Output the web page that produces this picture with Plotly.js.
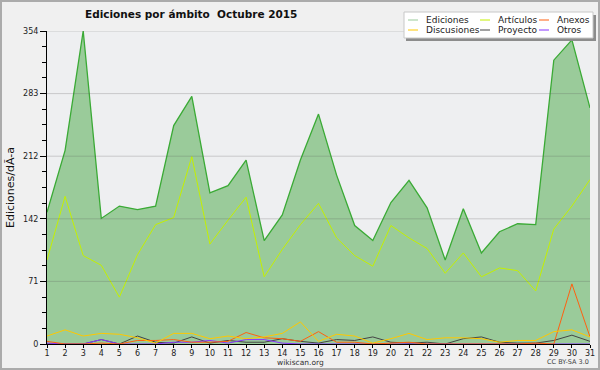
<!DOCTYPE html>
<html>
<head>
<meta charset="utf-8">
<script src="https://cdn.plot.ly/plotly-3.0.1.min.js"></script>
<style>
  html, body { margin: 0; padding: 0; background: #f0f0f0; }
  #wrap { position: relative; width: 600px; height: 370px; }
  #chart { width: 600px; height: 370px; }
  #frame { position: absolute; left: 0; top: 0; width: 600px; height: 370px; box-sizing: border-box; border: 2px solid #ababab; pointer-events: none; }
</style>
</head>
<body>
<div id="wrap"><div id="chart"></div><div id="frame"></div></div>
<script>
const days = [1,2,3,4,5,6,7,8,9,10,11,12,13,14,15,16,17,18,19,20,21,22,23,24,25,26,27,28,29,30,31];
const ediciones   = [149,219,354,142,156,152,156,247,280,171,179,208,117,146,208,260,191,134,117,160,185,154,95,153,103,127,136,135,321,344,267];
const articulos   = [95,167,100,89,53,101,135,143,212,113,140,166,76,107,135,159,120,100,88,134,120,108,80,103,76,86,83,60,130,156,186];
const discusiones = [9,16,9,12,11,7,1,12,12,6,9,6,8,12,25,3,11,9,1,6,12,5,7,7,6,2,4,4,14,16,8];
const anexos      = [3,0,0,1,0,4,4,5,2,2,3,13,7,6,3,14,2,2,0,1,2,0,0,0,0,0,0,1,0,68,8];
const proyecto    = [0,0,0,5,0,9,2,1,8,1,4,2,2,6,3,1,5,4,8,2,1,2,0,6,8,2,1,1,4,10,3];
const otros       = [1,0,0,5,0,0,0,2,2,4,1,5,5,1,0,0,0,0,0,0,0,0,0,0,0,0,0,0,0,0,0];

const seriesNames = ["Ediciones","Artículos","Anexos","Discusiones","Proyecto","Otros"];
const tickLabelsY = ["0","71","142","212","283","354"];
const titleText = "Ediciones por ámbito&nbsp;&nbsp;Octubre 2015";
const yTitle = "Ediciones/dÃ-a";

const colors = {
  Ediciones: "#3aaa35", EdicionesFill: "#9acb9a",
  "Artículos": "#c4f000", Anexos: "#ff6010", Discusiones: "#ffc800",
  Proyecto: "#444444", Otros: "#8833ff"
};
const legendColors = ["#9acb9a", "#c4f000", "#ff6010", "#ffc800", "#444444", "#8833ff"];

const traces = [
  {x: days, y: ediciones, name: "Ediciones", type: "scatter", mode: "lines", fill: "tozeroy",
   fillcolor: colors.EdicionesFill, line: {color: colors.Ediciones, width: 1.3}},
  {x: days, y: articulos, name: "Artículos", type: "scatter", mode: "lines", line: {color: colors["Artículos"], width: 1}},
  {x: days, y: proyecto, name: "Proyecto", type: "scatter", mode: "lines", line: {color: colors.Proyecto, width: 1}},
  {x: days, y: otros, name: "Otros", type: "scatter", mode: "lines", line: {color: colors.Otros, width: 1}},
  {x: days, y: anexos, name: "Anexos", type: "scatter", mode: "lines", line: {color: colors.Anexos, width: 1}},
  {x: days, y: discusiones, name: "Discusiones", type: "scatter", mode: "lines", line: {color: colors.Discusiones, width: 1}}
];

// layout geometry (pixels)
const L = 47, R = 10, T = 31, B = 26, W = 600, H = 370;
const pw = W - L - R, ph = H - T - B;
const px = v => (v - L) / pw;
const py = v => 1 - (v - T) / ph;

const shapes = [];
const annotations = [];
const ymax = 354;
for (let k = 1; k <= 5; k++) {
  shapes.push({type: "line", xref: "paper", yref: "y", x0: 0, x1: 1, y0: ymax * k / 5, y1: ymax * k / 5,
    line: {color: "rgba(90,90,90,0.25)", width: 1}, layer: "above"});
}
shapes.push({type: "rect", xref: "paper", yref: "paper", x0: px(406), x1: px(596), y0: py(15), y1: py(41),
  fillcolor: "#8c8c8c", line: {width: 0}, layer: "above"});
shapes.push({type: "rect", xref: "paper", yref: "paper", x0: px(404), x1: px(593), y0: py(12), y1: py(38),
  fillcolor: "#ffffff", line: {color: "#c8c8c8", width: 1}, layer: "above"});
const colX = [[408, 418, 424], [480, 490, 496], [539, 549, 555]];
const rowY = [20, 30];
seriesNames.forEach((n, i) => {
  const c = colX[i % 3], r = rowY[Math.floor(i / 3)];
  shapes.push({type: "line", xref: "paper", yref: "paper", x0: px(c[0]), x1: px(c[1]), y0: py(r), y1: py(r),
    line: {color: legendColors[i], width: 1}, layer: "above"});
  annotations.push({xref: "paper", yref: "paper", x: px(c[2]), y: py(r), text: n, showarrow: false,
    xanchor: "left", yanchor: "middle", font: {family: "DejaVu Sans", size: 9, color: "#222"}});
});
annotations.push({xref: "paper", yref: "paper", x: px(300), y: py(362), text: "wikiscan.org", showarrow: false,
  xanchor: "center", yanchor: "middle", borderpad: 0, font: {family: "DejaVu Sans", size: 7.5, color: "#333"}});
annotations.push({xref: "paper", yref: "paper", x: px(590), y: py(362), text: "CC BY-SA 3.0", showarrow: false,
  xanchor: "right", yanchor: "middle", borderpad: 0, font: {family: "DejaVu Sans", size: 6.5, color: "#444"}});

const layout = {
  width: W, height: H,
  margin: {l: L, r: R, t: T, b: B, pad: 0},
  paper_bgcolor: "#f0f0f0", plot_bgcolor: "#eeeff1",
  showlegend: false,
  font: {family: "DejaVu Sans", size: 8, color: "#222"},
  title: {text: titleText, x: 85 / W, xanchor: "left", xref: "container", y: 1 - 14 / H, yanchor: "middle", yref: "container",
    font: {family: "DejaVu Sans", size: 10.5, weight: "bold", color: "#111"}},
  xaxis: {range: [1, 31], tickmode: "array", tickvals: days, ticktext: days.map(String), ticks: "outside", ticklen: 3,
    ticklabelstandoff: -2,
    tickcolor: "#000", showline: true, linecolor: "#000", linewidth: 1, showgrid: false, zeroline: false,
    tickfont: {family: "DejaVu Sans", size: 8, color: "#222"}, fixedrange: true},
  yaxis: {range: [0, ymax], tickmode: "array", tickvals: tickLabelsY.map((t, k) => ymax * k / 5), ticktext: tickLabelsY,
    ticks: "outside", ticklen: 6, tickcolor: "#000", showline: true, linecolor: "#000", linewidth: 1,
    showgrid: false, zeroline: false,
    minor: {tickmode: "linear", tick0: 0, dtick: ymax / 20, ticks: "outside", ticklen: 4, tickcolor: "#000", showgrid: false},
    tickfont: {family: "DejaVu Sans", size: 8, color: "#222"},
    title: {text: yTitle, standoff: 6, font: {family: "DejaVu Sans", size: 11, color: "#111"}}, fixedrange: true},
  shapes: shapes,
  annotations: annotations
};

Plotly.newPlot("chart", traces, layout, {staticPlot: true, displayModeBar: false});
</script>
</body>
</html>
